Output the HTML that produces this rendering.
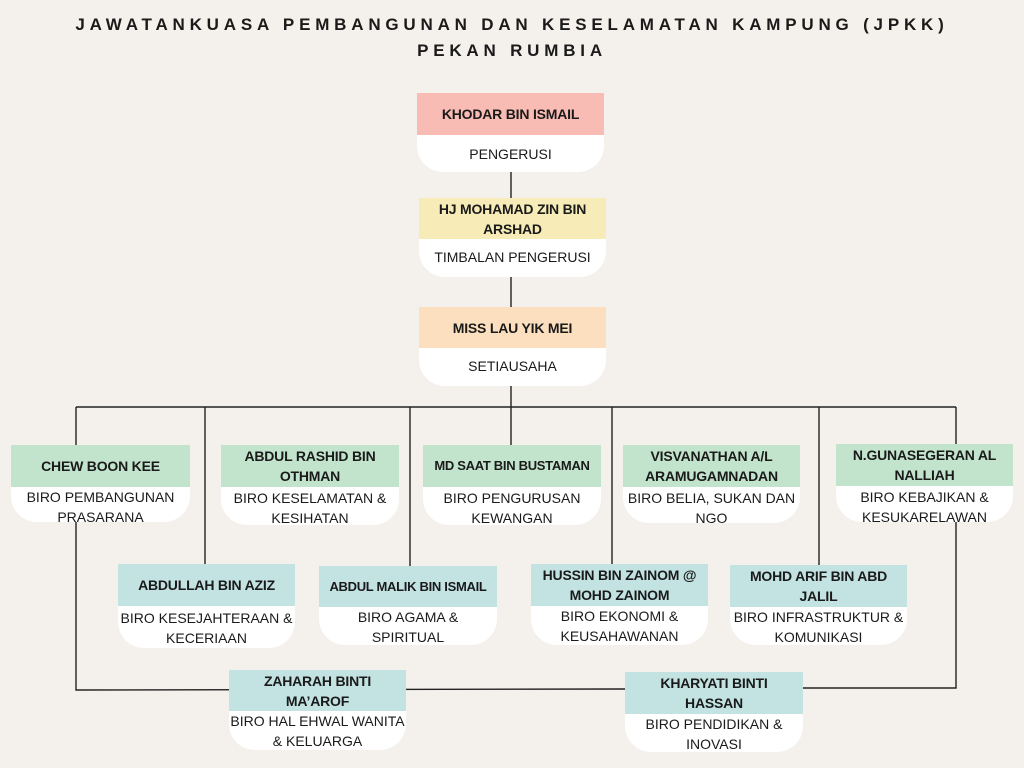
<!DOCTYPE html>
<html><head><meta charset="utf-8"><style>
body{margin:0;width:1024px;height:768px;background:#f4f0eb;position:relative;overflow:hidden;font-family:"Liberation Sans",sans-serif;color:#1a1a1a}
.t{position:absolute;left:0;width:1024px;text-align:center;font-weight:bold;font-size:17px;letter-spacing:4.8px}
.b{position:absolute;border-radius:0 0 26px 26px;background:#fff;overflow:hidden;text-align:center}
.h{display:flex;align-items:center;justify-content:center;font-weight:bold;font-size:14px;line-height:20px;letter-spacing:-0.2px;padding:0 1px;white-space:nowrap}
.r{font-size:14px;line-height:20px;padding-top:1px}
svg{position:absolute;left:0;top:0}
.g{background:#c3e4cc}.c{background:#c3e3e3}
.s{font-size:13px;letter-spacing:-0.3px}
</style></head><body>
<div class="t" style="top:15px">JAWATANKUASA PEMBANGUNAN DAN KESELAMATAN KAMPUNG (JPKK)</div>
<div class="t" style="top:41px">PEKAN RUMBIA</div>
<svg width="1024" height="768"><g stroke="#222" stroke-width="1.4" fill="none">
<line x1="511" y1="170" x2="511" y2="445"/>
<line x1="76" y1="407" x2="956" y2="407"/>
<polyline points="76,407 76,690 625,689"/>
<polyline points="956,407 956,688 700,688"/>
<line x1="205" y1="407" x2="205" y2="566"/>
<line x1="410" y1="407" x2="410" y2="568"/>
<line x1="612" y1="407" x2="612" y2="566"/>
<line x1="819" y1="407" x2="819" y2="567"/>
</g></svg>

<div class="b" style="left:417px;top:93px;width:187px;height:79px"><div class="h" style="height:42px;background:#f9bcb4">KHODAR BIN ISMAIL</div><div class="r" style="padding-top:9px">PENGERUSI</div></div>
<div class="b" style="left:419px;top:198px;width:187px;height:79px"><div class="h" style="height:41px;background:#f7ecb8">HJ MOHAMAD ZIN BIN<br>ARSHAD</div><div class="r" style="padding-top:8px">TIMBALAN PENGERUSI</div></div>
<div class="b" style="left:419px;top:307px;width:187px;height:79px"><div class="h" style="height:41px;background:#fbdfbe">MISS LAU YIK MEI</div><div class="r" style="padding-top:8px">SETIAUSAHA</div></div>

<div class="b" style="left:11px;top:445px;width:179px;height:77px"><div class="h g" style="height:42px">CHEW BOON KEE</div><div class="r" style="padding-top:0">BIRO PEMBANGUNAN<br>PRASARANA</div></div>
<div class="b" style="left:221px;top:445px;width:178px;height:80px"><div class="h g" style="height:42px">ABDUL RASHID BIN<br>OTHMAN</div><div class="r">BIRO KESELAMATAN &amp;<br>KESIHATAN</div></div>
<div class="b" style="left:423px;top:445px;width:178px;height:80px"><div class="h g s" style="height:42px">MD SAAT BIN BUSTAMAN</div><div class="r">BIRO PENGURUSAN<br>KEWANGAN</div></div>
<div class="b" style="left:623px;top:445px;width:177px;height:78px"><div class="h g" style="height:42px">VISVANATHAN A/L<br>ARAMUGAMNADAN</div><div class="r">BIRO BELIA, SUKAN DAN<br>NGO</div></div>
<div class="b" style="left:836px;top:444px;width:177px;height:78px"><div class="h g" style="height:42px">N.GUNASEGERAN AL<br>NALLIAH</div><div class="r">BIRO KEBAJIKAN &amp;<br>KESUKARELAWAN</div></div>

<div class="b" style="left:118px;top:564px;width:177px;height:84px"><div class="h c" style="height:42px">ABDULLAH BIN AZIZ</div><div class="r" style="padding-top:2px">BIRO KESEJAHTERAAN &amp;<br>KECERIAAN</div></div>
<div class="b" style="left:319px;top:566px;width:178px;height:79px"><div class="h c s" style="height:41px">ABDUL MALIK BIN ISMAIL</div><div class="r" style="padding-top:0">BIRO AGAMA &amp;<br>SPIRITUAL</div></div>
<div class="b" style="left:531px;top:564px;width:177px;height:81px"><div class="h c" style="height:42px">HUSSIN BIN ZAINOM @<br>MOHD ZAINOM</div><div class="r" style="padding-top:0">BIRO EKONOMI &amp;<br>KEUSAHAWANAN</div></div>
<div class="b" style="left:730px;top:565px;width:177px;height:80px"><div class="h c" style="height:42px">MOHD ARIF BIN ABD<br>JALIL</div><div class="r" style="padding-top:0">BIRO INFRASTRUKTUR &amp;<br>KOMUNIKASI</div></div>

<div class="b" style="left:229px;top:670px;width:177px;height:80px"><div class="h c" style="height:41px">ZAHARAH BINTI<br>MA’AROF</div><div class="r" style="padding-top:0">BIRO HAL EHWAL WANITA<br>&amp; KELUARGA</div></div>
<div class="b" style="left:625px;top:672px;width:178px;height:80px"><div class="h c" style="height:42px">KHARYATI BINTI<br>HASSAN</div><div class="r" style="padding-top:0">BIRO PENDIDIKAN &amp;<br>INOVASI</div></div>
</body></html>
